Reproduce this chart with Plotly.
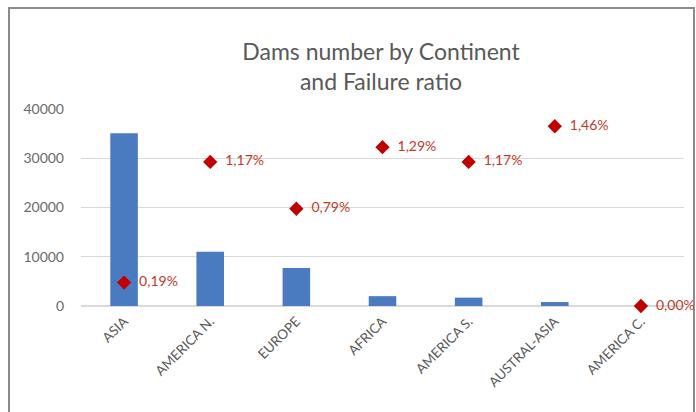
import plotly.graph_objects as go

continents = ["ASIA", "AMERICA N.", "EUROPE", "AFRICA", "AMERICA S.", "AUSTRAL-ASIA", "AMERICA C."]
dams = [35100, 11000, 7700, 2000, 1700, 800, 0]
failure_pct = [0.19, 1.17, 0.79, 1.29, 1.17, 1.46, 0.00]
labels = ["0,19%", "1,17%", "0,79%", "1,29%", "1,17%", "1,46%", "0,00%"]
y_ticks = [0, 10000, 20000, 30000, 40000]
y_tick_text = ["0", "10000", "20000", "30000", "40000"]

W, H = 696, 412
L, R, T, B = 81, 12, 109, 106
pw, ph = W - L - R, H - T - B

def px(x):
    return (x - L) / pw

def py(y):
    return (H - B - y) / ph

fig = go.Figure()
fig.add_trace(go.Bar(x=continents, y=dams, marker=dict(color="#4A7BC0", line=dict(width=0)),
                     width=0.32, showlegend=False))
fig.add_trace(go.Scatter(x=continents, y=failure_pct, yaxis="y2", mode="markers+text",
                         marker=dict(symbol="diamond", size=11, color="#C00000"),
                         text=["  " + t for t in labels], textposition="middle right",
                         textfont=dict(color="#C0392B", size=14, family="Lato"),
                         cliponaxis=False, showlegend=False))

fig.update_layout(
    width=W, height=H,
    margin=dict(l=L, r=R, t=T, b=B),
    paper_bgcolor="white", plot_bgcolor="white",
    font=dict(family="Lato", color="#595959"),
    title=dict(text="Dams number by Continent<br>and Failure ratio", x=381 / W, xanchor="center",
               y=1 - 60 / H, yanchor="top", font=dict(size=23, color="#595959", family="Lato")),
    xaxis=dict(tickangle=-45, tickfont=dict(size=13.5, color="#595959"), showgrid=False,
               showline=False, ticks="", zeroline=False, ticklabelstandoff=4),
    yaxis=dict(range=[0, 40000], tickvals=y_ticks, ticktext=y_tick_text,
               tickfont=dict(size=14, color="#6A6A6A"),
               gridcolor="#D9D9D9", gridwidth=1, zeroline=True, zerolinecolor="#D9D9D9",
               showline=False, ticks="", ticklabelstandoff=16),
    yaxis2=dict(range=[0, 1.6], overlaying="y", side="right", visible=False, showgrid=False),
    bargap=0.68,
    shapes=[dict(type="rect", xref="paper", yref="paper",
                 x0=px(9), x1=px(694), y0=py(430), y1=py(8),
                 line=dict(color="#8C8C8C", width=2), layer="below")],
)

fig.write_html("out.html")
